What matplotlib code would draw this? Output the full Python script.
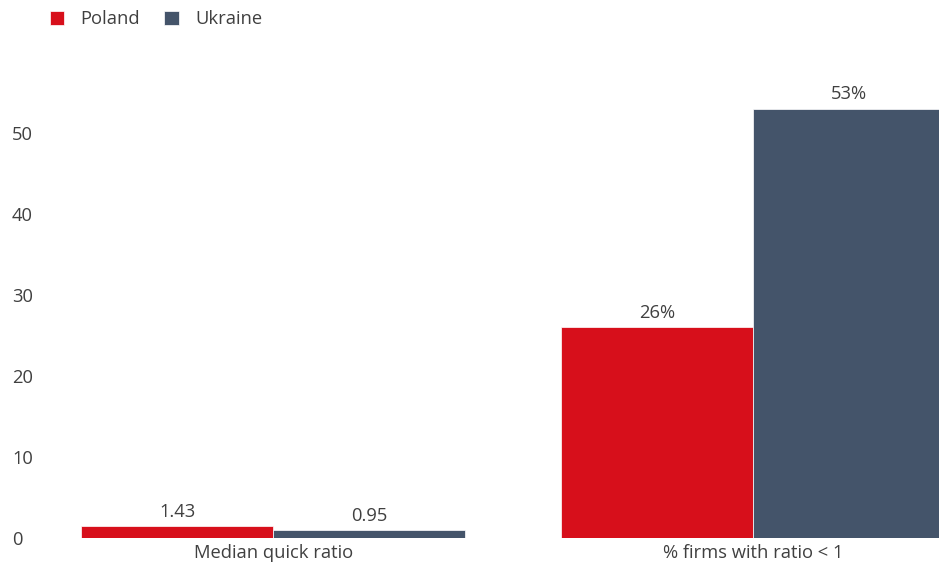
import numpy as np
import matplotlib.pyplot as plt

categories = ["Median quick ratio", "% firms with ratio < 1"]
poland = [1.43, 26]
ukraine = [0.95, 53]
poland_labels = ["1.43", "26%"]
ukraine_labels = ["0.95", "53%"]

RED = "#D70F1B"
BLUE = "#44546A"
TEXT = "#404040"
FS = 13.2

plt.rcParams["font.family"] = ["Open Sans", "DejaVu Sans"]

W, H = 939, 564
fig = plt.figure(figsize=(W / 100, H / 100), dpi=100)
ax = fig.add_axes([60 / W, (H - 538) / H, (939 - 60) / W, (538 - 60) / H])

x = np.arange(len(categories))
bw = 0.4
b1 = ax.bar(x - bw / 2, poland, bw, color=RED, edgecolor="white", linewidth=0.5, label="Poland")
b2 = ax.bar(x + bw / 2, ukraine, bw, color=BLUE, edgecolor="white", linewidth=0.5, label="Ukraine")
ax.bar_label(b1, labels=poland_labels, padding=4, fontsize=FS, color=TEXT)
ax.bar_label(b2, labels=ukraine_labels, padding=4, fontsize=FS, color=TEXT)

ax.set_xlim(-0.444, 1.3875)
ax.set_ylim(0, 59)
ax.set_yticks([0, 10, 20, 30, 40, 50])
ax.set_xticks(x)
ax.set_xticklabels(categories)
ax.tick_params(length=0, labelsize=FS, labelcolor=TEXT)
ax.tick_params(axis="y", pad=34.5)
ax.tick_params(axis="x", pad=4)
for lbl in ax.get_yticklabels():
    lbl.set_horizontalalignment("left")
for s in ax.spines.values():
    s.set_visible(False)

ax.legend(loc="upper left", bbox_to_anchor=(33 / W, 1.011), bbox_transform=fig.transFigure,
          ncol=2, frameon=False, fontsize=FS, labelcolor=TEXT,
          handlelength=0.8, handleheight=0.8, handletextpad=0.9, columnspacing=1.3)

fig.savefig("out.png", dpi=100)
